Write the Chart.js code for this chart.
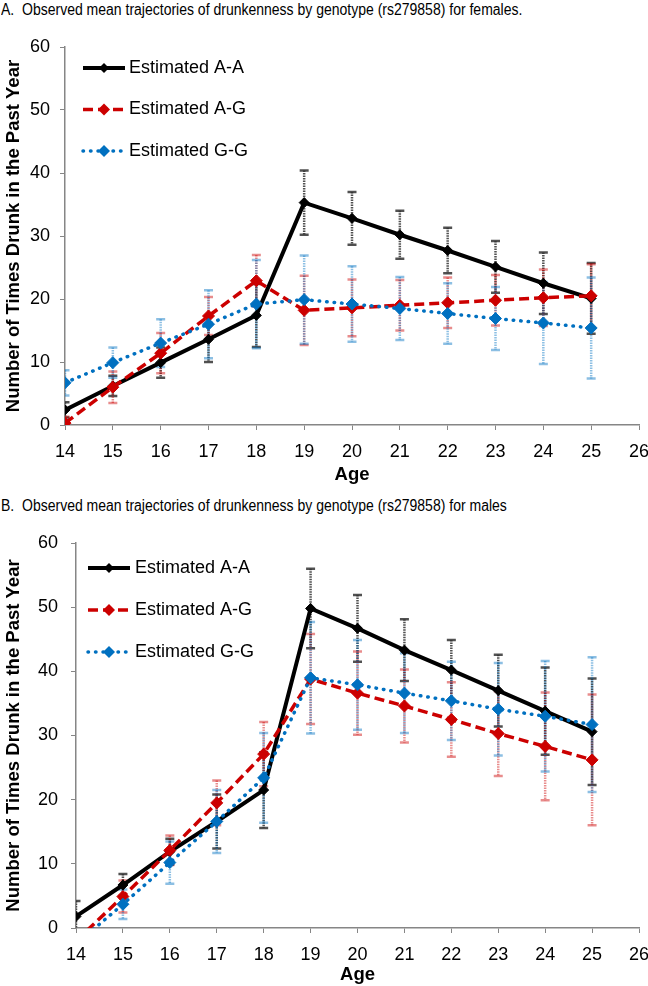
<!DOCTYPE html>
<html>
<head>
<meta charset="utf-8">
<script src="https://cdn.jsdelivr.net/npm/chart.js@4.4.1/dist/chart.umd.min.js"></script>
<style>
  body { margin: 0; width: 648px; height: 986px; background: #fff; position: relative; overflow: hidden;
         font-family: "Liberation Sans", Arial, sans-serif; }
  .title { position: absolute; left: 1px; font-size: 16px; color: #000; white-space: nowrap;
           transform: scaleX(0.875); transform-origin: left top; }
  canvas { position: absolute; left: 0; }
</style>
</head>
<body>
<div class="title" style="top:1px">A.&nbsp;&nbsp;Observed mean trajectories of drunkenness by genotype (rs279858) for females.</div>
<canvas id="chartA" width="648" height="458" style="top:28px"></canvas>
<div class="title" style="top:497px">B.&nbsp;&nbsp;Observed mean trajectories of drunkenness by genotype (rs279858) for males</div>
<canvas id="chartB" width="648" height="467" style="top:519px"></canvas>

<script>
// ages on the x axis
const ages = [14, 15, 16, 17, 18, 19, 20, 21, 22, 23, 24, 25];
const seriesNames = ['Estimated A-A', 'Estimated A-G', 'Estimated G-G'];

// females (panel A)
const femAA    = [2.4, 6.2, 9.9, 13.6, 17.4, 35.3, 32.8, 30.2, 27.7, 25.1, 22.5, 20.1];
const femAAErr = [1.2, 1.6, 2.4, 3.6, 5.0, 5.1, 4.2, 3.8, 3.6, 4.1, 4.9, 5.6];
const femAG    = [0.3, 6.0, 11.4, 17.3, 22.9, 18.2, 18.6, 19.0, 19.4, 19.8, 20.2, 20.5];
const femAGErr = [1.0, 2.5, 3.2, 3.0, 4.1, 5.5, 4.5, 4.0, 4.0, 4.0, 4.5, 5.0];
const femGG    = [6.7, 9.9, 13.0, 16.0, 19.2, 19.9, 19.2, 18.5, 17.7, 16.9, 16.2, 15.4];
const femGGErr = [2.0, 2.4, 3.8, 5.4, 7.0, 7.0, 6.0, 5.0, 4.8, 5.0, 6.5, 8.0];

// males (panel B)
const malAA    = [1.8, 6.7, 11.9, 16.6, 21.5, 49.8, 46.7, 43.3, 40.2, 37.0, 33.8, 30.6];
const malAAErr = [2.4, 1.7, 2.0, 4.2, 5.9, 6.2, 5.2, 4.8, 4.7, 5.6, 6.8, 8.3];
const malAG    = [-2.0, 4.9, 12.1, 19.5, 27.1, 38.8, 36.6, 34.6, 32.5, 30.3, 28.3, 26.2];
const malAGErr = [1.5, 2.5, 2.3, 3.5, 5.0, 7.0, 6.5, 5.7, 5.8, 6.6, 8.4, 10.2];
const malGG    = [-2.5, 3.7, 10.2, 16.6, 23.4, 39.0, 37.9, 36.6, 35.4, 34.1, 33.0, 31.7];
const malGGErr = [1.5, 2.3, 3.3, 4.9, 7.0, 8.7, 7.0, 6.2, 6.1, 7.2, 8.6, 10.5];

const FONT = '"Liberation Sans", Arial, sans-serif';
const AXIS_GRAY = '#868686';

const styles = [
  { color: '#000000', width: 4, dash: [], cap: 'butt', radius: 5, err: 'rgba(50,50,50,0.85)' },
  { color: '#CC0000', width: 3.5, dash: [10, 5], cap: 'butt', radius: 6, err: 'rgba(204,0,0,0.45)' },
  { color: '#0070C0', width: 3.5, dash: [0.5, 7], cap: 'round', radius: 6, err: 'rgba(0,112,192,0.45)' }
];

// vertical error bars with caps, behind the lines
const errorBars = {
  id: 'errorBars',
  beforeDatasetsDraw(chart) {
    const {ctx, chartArea: a, scales: {x, y}} = chart;
    ctx.save();
    ctx.beginPath();
    ctx.rect(a.left, a.top - 2, a.width, a.height + 2);
    ctx.clip();
    chart.data.datasets.forEach(ds => {
      ctx.strokeStyle = ds.errColor;
      ds.data.forEach((p, i) => {
        const px = x.getPixelForValue(p.x);
        const top = y.getPixelForValue(p.y + ds.errors[i]);
        const bot = y.getPixelForValue(p.y - ds.errors[i]);
        ctx.lineWidth = 2.5;
        ctx.setLineDash([1.5, 1]);
        ctx.beginPath();
        ctx.moveTo(px, top);
        ctx.lineTo(px, bot);
        ctx.stroke();
        ctx.setLineDash([]);
        ctx.beginPath();
        ctx.moveTo(px - 4.5, top); ctx.lineTo(px + 4.5, top);
        ctx.moveTo(px - 4.5, bot); ctx.lineTo(px + 4.5, bot);
        ctx.stroke();
      });
    });
    ctx.restore();
  }
};

// legend drawn inside the plot, top left
const insideLegend = {
  id: 'insideLegend',
  afterDraw(chart, args, opts) {
    const {ctx, chartArea: a} = chart;
    ctx.save();
    ctx.font = '18px ' + FONT;
    ctx.textBaseline = 'middle';
    chart.data.datasets.forEach((ds, i) => {
      const y = a.top + opts.top + i * opts.gap;
      const x0 = a.left + opts.left;
      ctx.strokeStyle = ds.borderColor;
      ctx.lineWidth = ds.borderWidth;
      ctx.lineCap = ds.borderCapStyle;
      ctx.setLineDash(ds.borderDash);
      ctx.beginPath();
      ctx.moveTo(x0, y);
      ctx.lineTo(x0 + 42, y);
      ctx.stroke();
      ctx.setLineDash([]);
      const r = ds.pointRadius;
      ctx.fillStyle = ds.borderColor;
      ctx.beginPath();
      ctx.moveTo(x0 + 21 - r, y); ctx.lineTo(x0 + 21, y - r);
      ctx.lineTo(x0 + 21 + r, y); ctx.lineTo(x0 + 21, y + r);
      ctx.closePath();
      ctx.fill();
      ctx.fillStyle = '#000';
      ctx.fillText(ds.label, x0 + opts.textGap, y);
    });
    ctx.restore();
  }
};

function makeDatasets(values, errors) {
  return values.map((vals, k) => ({
    label: seriesNames[k],
    data: ages.map((a, i) => ({x: a, y: vals[i]})),
    errors: errors[k],
    errColor: styles[k].err,
    borderColor: styles[k].color,
    backgroundColor: styles[k].color,
    borderWidth: styles[k].width,
    borderDash: styles[k].dash,
    borderCapStyle: styles[k].cap,
    pointStyle: 'rectRot',
    pointRadius: styles[k].radius,
    pointBorderWidth: 1,
    pointBackgroundColor: styles[k].color,
    pointBorderColor: styles[k].color,
    tension: 0,
    order: 3 - k
  }));
}

function makeChart(id, values, errors, lay) {
  return new Chart(document.getElementById(id), {
    type: 'line',
    data: { datasets: makeDatasets(values, errors) },
    plugins: [errorBars, insideLegend],
    options: {
      responsive: false,
      animation: false,
      layout: { padding: { top: lay.top, right: 9, left: 0, bottom: 0 } },
      plugins: {
        legend: { display: false },
        tooltip: { enabled: false },
        insideLegend: lay.legend
      },
      scales: {
        x: {
          type: 'linear', min: 14, max: 26,
          ticks: { stepSize: 1, color: '#000', font: { family: FONT, size: 18 }, padding: 11 },
          grid: { drawOnChartArea: false, tickLength: 5, color: AXIS_GRAY, tickColor: AXIS_GRAY },
          border: { color: AXIS_GRAY, width: 1.5 },
          title: { display: true, text: 'Age', color: '#000', font: { family: FONT, size: 18.5, weight: 'bold' },
                   padding: { top: 0, bottom: 0 } },
          afterFit(s) { s.height = lay.xHeight; s.paddingLeft = 0; s.paddingRight = 0; }
        },
        y: {
          min: 0, max: 60,
          ticks: { stepSize: 10, color: '#000', font: { family: FONT, size: 18 }, padding: lay.yPad },
          grid: { drawOnChartArea: false, tickLength: 5, color: AXIS_GRAY, tickColor: AXIS_GRAY },
          border: { color: AXIS_GRAY, width: 1.5 },
          title: { display: true, text: 'Number of Times Drunk in the Past Year', color: '#000',
                   font: { family: FONT, size: 18.5, weight: 'bold' }, padding: { top: 3, bottom: 0 } },
          afterFit(s) { s.width = lay.yWidth; s.paddingTop = 0; s.paddingBottom = 0; }
        }
      }
    }
  });
}

makeChart('chartA', [femAA, femAG, femGG], [femAAErr, femAGErr, femGGErr],
  { top: 19, xHeight: 61, yWidth: 65, yPad: 10, legend: { left: 18, top: 21, gap: 41.5, textGap: 46 } });
makeChart('chartB', [malAA, malAG, malGG], [malAAErr, malAGErr, malGGErr],
  { top: 24, xHeight: 58, yWidth: 76, yPad: 13, legend: { left: 12, top: 25, gap: 42, textGap: 47 } });
</script>
</body>
</html>
